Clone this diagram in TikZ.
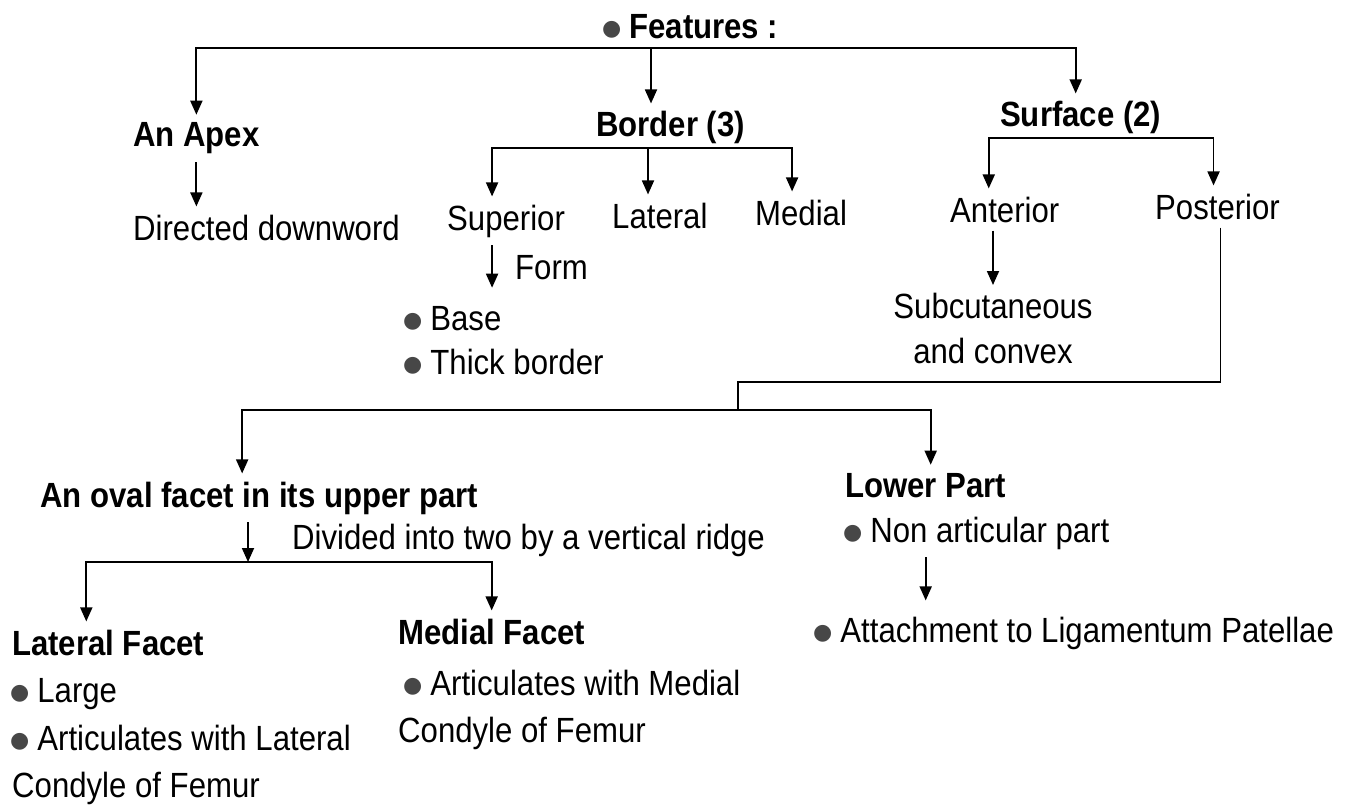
\documentclass[tikz,border=0pt]{standalone}
\usepackage{fontspec}
\setmainfont{Liberation Sans}[FakeStretch=0.89]
\newfontfamily\symfont{DejaVu Sans}
\usetikzlibrary{positioning,arrows.meta}

\newcommand{\dotitem}{{\color{black!72}\raisebox{3pt}{\symfont\fontsize{22}{22}\selectfont ●}}\hspace{8pt}}

\begin{document}
\begin{tikzpicture}[
    x=1pt,y=-1pt,
    >={Triangle[width=12pt,length=14pt]},
    every node/.style={font=\fontsize{35}{42}\selectfont,inner xsep=0pt,inner ysep=8pt,anchor=base west,align=left},
    head/.style={font=\fontsize{35}{42}\selectfont\bfseries},
    link/.style={line width=1.8pt},
    arr/.style={link,->}
]
\useasboundingbox (0,0) rectangle (1356,805);

% Root
\node[head] (feat) at (602,39) {\dotitem Features :};
\coordinate (tbar) at (651,48);

% First level
\node[head] (apex) at (133,147) {An Apex};
\node[head] (bord) at (596,137) {Border (3)};
\node[head] (surf) at (1000,127) {Surface (2)};
\draw[arr] (tbar) -| (apex.north);
\draw[arr] (tbar) -- (tbar |- bord.north);
\draw[arr] (tbar) -| ([xshift=-5pt]surf.north);

% Apex
\node (dir) at (133,240) {Directed downword};
\draw[arr] (apex.south) -- (apex.south |- dir.north);

% Borders
\node (sup) at (447,230) {Superior};
\node (lat) at (612,228) {Lateral};
\node (med) at (755,225) {Medial};
\coordinate (bbar) at (648,148);
\draw[arr] (bbar) -| ([xshift=-14pt]sup.north);
\draw[arr] (bbar) -- (bbar |- lat.north);
\draw[arr] (bbar) -| ([xshift=-9pt]med.north);

\node (form) at (515,279) {Form};
\node (base) at (403,330) {\dotitem Base};
\node (thick) at (403,374) {\dotitem Thick border};
\draw[arr] ([xshift=-14pt]sup.south) -- ([xshift=-14pt,yshift=10pt]sup.south |- base.north);

% Surfaces
\node (ant) at (950,222) {Anterior};
\node (post) at (1155,219) {Posterior};
\coordinate (sbar) at (1100,138);
\draw[arr] (sbar) -| ([xshift=-16pt]ant.north);
\draw[arr] (sbar) -| ([xshift=-4pt]post.north);

\node[align=center,anchor=north] (subc) at (993,285) {Subcutaneous\\[3pt]and convex};
\draw[arr] (ant.south -| subc.north) -- (subc.north);

% Posterior surface
\coordinate (pjoin) at (738,382);
\coordinate (lbar) at (738,410);
\draw[link] ([xshift=3pt]post.south) |- (pjoin) -- (lbar);

\node[head] (oval) at (40,507) {An oval facet in its upper part};
\node[head] (lower) at (845,497) {Lower Part};
\draw[arr] (lbar) -| ([xshift=-17pt]oval.north);
\draw[arr] (lbar) -| ([xshift=5pt]lower.north);

% Oval facet
\node (divd) at (292,549) {Divided into two by a vertical ridge};
\coordinate (obar) at (248,562);
\draw[arr] (oval.south -| obar) -- (obar);

\node[head] (latf) at (12,655) {Lateral Facet};
\node (large) at (10,702) {\dotitem Large};
\node (artl) at (10,750) {\dotitem Articulates with Lateral};
\node (condl) at (12,797) {Condyle of Femur};

\node[head] (medf) at (398,644) {Medial Facet};
\node (artm) at (403,695) {\dotitem Articulates with Medial};
\node (condm) at (398,742) {Condyle of Femur};

\draw[arr] (obar) -| ([xshift=-22pt]latf.north);
\draw[arr] (obar) -| (medf.north);

% Lower part
\node (nonart) at (843,542) {\dotitem Non articular part};
\node (attach) at (813,642) {\dotitem Attachment to Ligamentum Patellae};
\draw[arr] (nonart.south -| lower.north) -- ([yshift=8pt]attach.north -| lower.north);

\end{tikzpicture}
\end{document}
